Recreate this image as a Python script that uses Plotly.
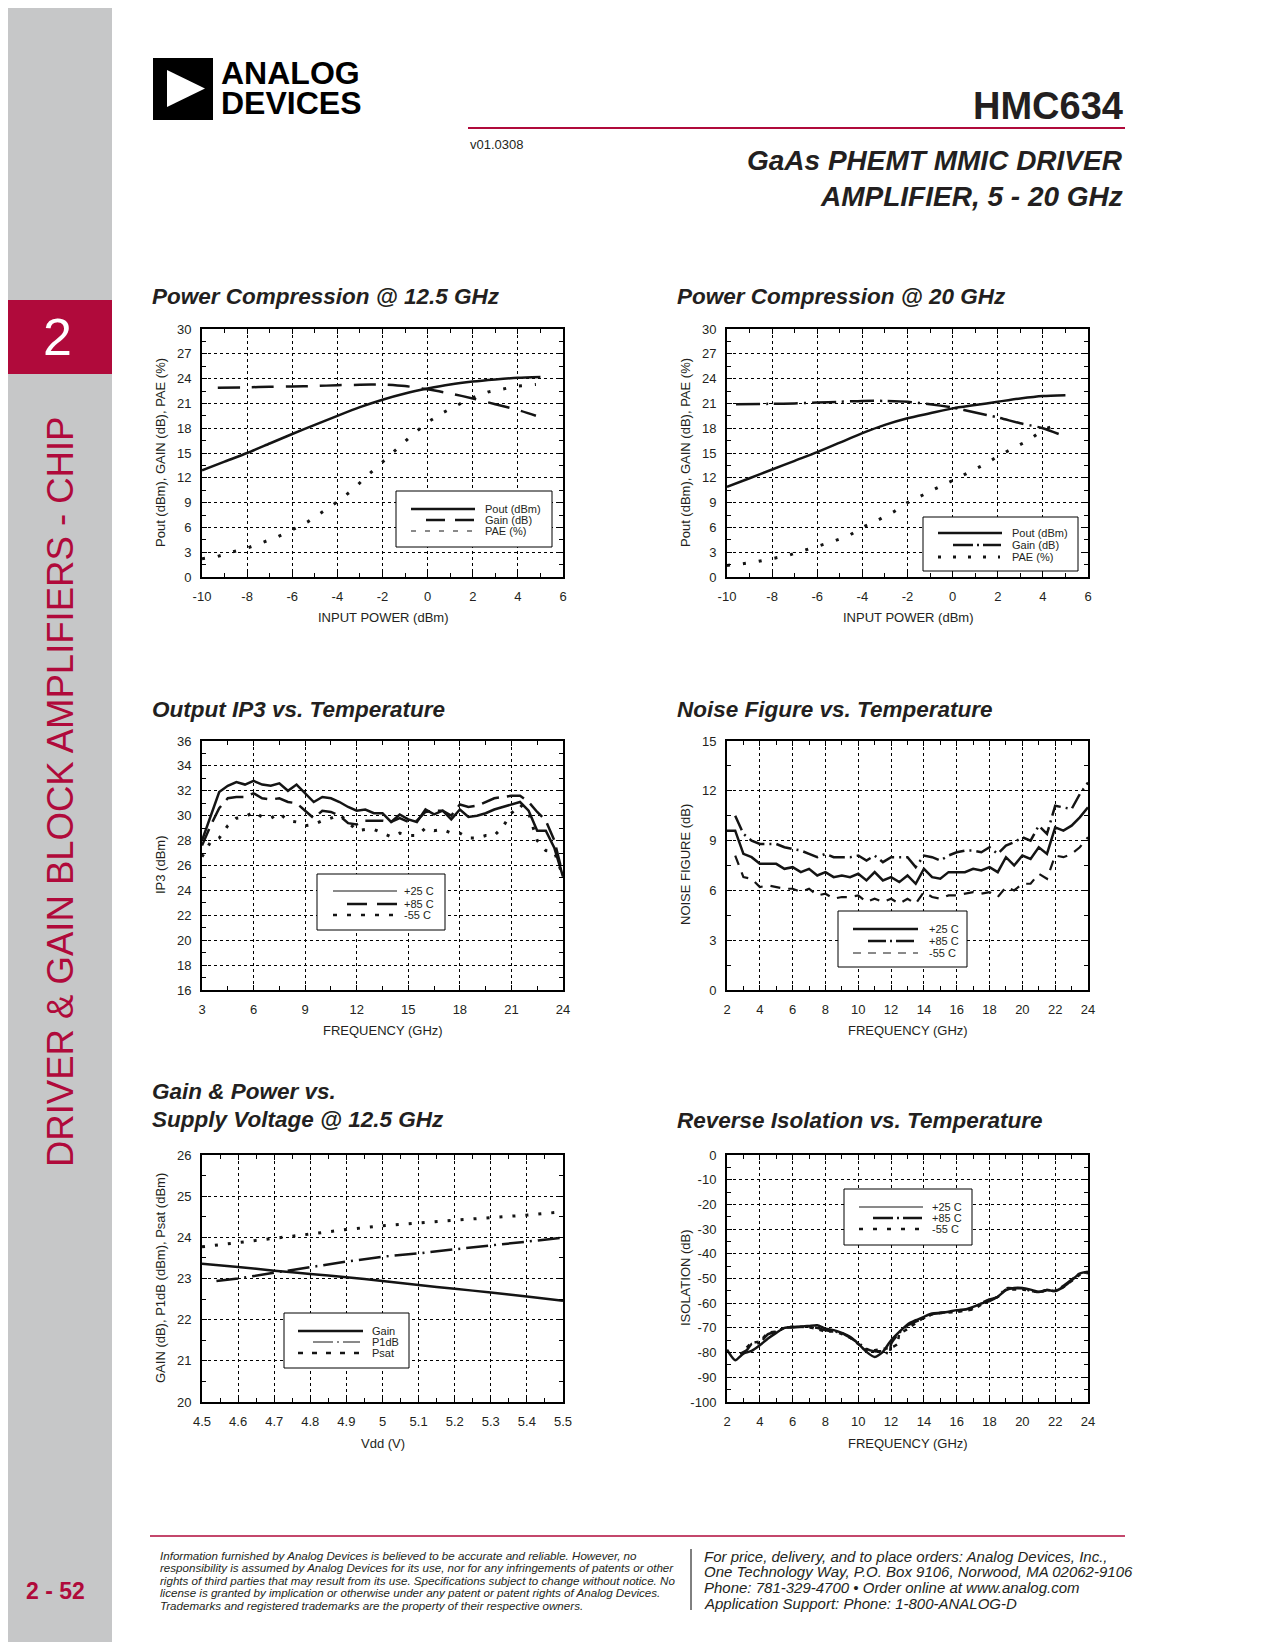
import plotly.graph_objects as go

# ---------------- data ----------------
# Power Compression @ 12.5 GHz
A_PIN = [-10, -9, -8, -7, -6, -5, -4, -3, -2, -1, 0, 1, 2, 3, 4, 5]
A_POUT = [12.9, 13.95, 15.0, 16.15, 17.3, 18.4, 19.5, 20.55, 21.45, 22.2, 22.8, 23.3, 23.65, 23.9, 24.1, 24.2]
A_GAIN_X = [-9.3, -8, -7, -6, -5, -4, -3, -2, -1, 0, 1, 2, 3, 4, 4.8]
A_GAIN = [22.9, 22.95, 23.0, 23.05, 23.1, 23.2, 23.25, 23.3, 23.1, 22.7, 22.2, 21.6, 20.9, 20.2, 19.5]
A_PAE_X = [-10, -9.3, -8.7, -8, -7.3, -6.7, -6, -5.3, -4.7, -4, -3.3, -2.7, -2, -1.3, -0.6, 0.1, 0.7, 1.4, 2, 2.7, 3.4, 4, 4.8]
A_PAE = [2.2, 2.5, 3.0, 3.5, 4.2, 4.8, 5.7, 6.7, 7.8, 9.1, 10.6, 12.2, 13.9, 15.7, 17.4, 18.9, 19.9, 20.9, 21.7, 22.4, 22.8, 23.1, 23.3]
A_XT = [-10, -8, -6, -4, -2, 0, 2, 4, 6]
A_YT = [0, 3, 6, 9, 12, 15, 18, 21, 24, 27, 30]

# Power Compression @ 20 GHz
B_PIN = [-10, -9, -8, -7, -6, -5, -4, -3, -2, -1, 0, 1, 2, 3, 4, 5]
B_POUT = [10.9, 11.95, 13.0, 14.05, 15.1, 16.25, 17.4, 18.4, 19.2, 19.8, 20.4, 20.8, 21.2, 21.6, 21.9, 22.0]
B_GAIN_X = [-9.6, -8, -7, -6, -5, -4, -3, -2, -1, 0, 1, 2, 3, 4, 4.7]
B_GAIN = [20.9, 20.95, 21.0, 21.1, 21.2, 21.3, 21.3, 21.2, 20.9, 20.5, 19.9, 19.3, 18.6, 18.0, 17.3]
B_PAE_X = [-10, -9.3, -8.6, -8, -7.3, -6.6, -6, -5.3, -4.6, -4, -3.3, -2.6, -2, -1.3, -0.6, 0.1, 0.7, 1.4, 2, 2.7, 3.4, 4, 4.7]
B_PAE = [1.4, 1.6, 1.9, 2.2, 2.6, 3.2, 3.7, 4.3, 5.0, 6.0, 6.9, 7.9, 9.0, 10.0, 10.9, 11.8, 12.6, 13.6, 14.6, 15.6, 16.6, 17.8, 18.5]
B_XT = [-10, -8, -6, -4, -2, 0, 2, 4, 6]
B_YT = [0, 3, 6, 9, 12, 15, 18, 21, 24, 27, 30]

# Output IP3 vs. Temperature
C_FREQ = [3, 3.5, 4, 4.5, 5, 5.5, 6, 6.5, 7, 7.5, 8, 8.5, 9, 9.5, 10, 10.5, 11, 11.5, 12, 12.5,
          13, 13.5, 14, 14.5, 15, 15.5, 16, 16.5, 17, 17.5, 18, 18.5, 19, 19.5, 20, 20.5, 21, 21.5,
          22, 22.5, 23, 23.5, 24]
C_P25 = [28.0, 30.0, 31.9, 32.4, 32.7, 32.5, 32.8, 32.5, 32.4, 32.6, 32.0, 32.5, 31.8, 31.1, 31.5,
         31.4, 31.1, 30.7, 30.4, 30.5, 30.2, 30.2, 29.5, 30.1, 29.7, 29.5, 30.5, 30.1, 30.4, 29.7,
         30.5, 29.9, 30.0, 30.2, 30.5, 30.7, 30.9, 31.1, 30.4, 28.8, 28.8, 27.4, 25.1]
C_P85 = [27.6, 29.2, 30.6, 31.4, 31.5, 31.5, 31.8, 31.4, 31.3, 31.4, 31.1, 31.0, 30.4, 29.8, 30.4,
         30.3, 30.0, 29.4, 29.3, 29.6, 29.6, 29.6, 29.5, 29.8, 29.5, 29.6, 30.3, 30.4, 30.4, 30.0,
         30.9, 30.7, 30.8, 31.1, 31.4, 31.5, 31.6, 31.6, 31.1, 30.3, 29.6, 28.0, 25.2]
C_M55 = [26.7, 27.9, 28.2, 29.2, 29.8, 29.9, 30.3, 29.9, 29.8, 30.2, 29.6, 29.5, 29.2, 29.3, 29.6,
         29.8, 30.1, 29.5, 28.8, 28.9, 28.9, 28.6, 28.3, 28.6, 28.4, 28.4, 29.0, 28.8, 28.9, 28.6,
         28.6, 28.2, 28.2, 28.4, 28.4, 29.1, 30.2, 30.9, 30.2, 28.0, 27.2, 27.1, 25.1]
C_XT = [3, 6, 9, 12, 15, 18, 21, 24]
C_YT = [16, 18, 20, 22, 24, 26, 28, 30, 32, 34, 36]

# Noise Figure vs. Temperature
D_FREQ = [2, 2.5, 3, 3.5, 4, 4.5, 5, 5.5, 6, 6.5, 7, 7.5, 8, 8.5, 9, 9.5, 10, 10.5, 11, 11.5,
          12, 12.5, 13, 13.5, 14, 14.5, 15, 15.5, 16, 16.5, 17, 17.5, 18, 18.5, 19, 19.5, 20, 20.5,
          21, 21.5, 22, 22.5, 23, 23.5, 24]
D_P25 = [9.6, 9.6, 8.2, 8.0, 7.6, 7.6, 7.6, 7.3, 7.4, 7.1, 7.3, 6.9, 7.1, 6.8, 6.9, 6.8, 7.0, 6.6,
         7.1, 6.6, 6.8, 6.5, 6.9, 6.4, 7.3, 6.8, 6.7, 7.1, 7.1, 7.1, 7.3, 7.2, 7.4, 7.1, 8.0, 7.5,
         8.1, 7.9, 8.6, 8.2, 9.8, 9.6, 9.9, 10.4, 11.0]
D_FREQ_T = D_FREQ[1:]
D_P85 = [10.5, 9.4, 9.0, 8.8, 8.8, 8.8, 8.6, 8.5, 8.4, 8.2, 8.0, 8.2, 8.0, 8.0, 8.0, 8.1, 7.8,
         8.1, 7.7, 8.0, 8.0, 8.0, 7.4, 8.1, 8.0, 7.8, 8.1, 8.3, 8.4, 8.4, 8.3, 8.6, 8.2, 8.7, 8.9,
         9.2, 9.0, 9.9, 9.4, 11.1, 11.0, 10.9, 11.8, 12.5]
D_M55 = [8.1, 6.8, 6.7, 6.2, 6.3, 6.2, 6.1, 6.1, 5.9, 6.1, 5.7, 5.8, 5.5, 5.6, 5.6, 5.7, 5.3,
         5.5, 5.3, 5.5, 5.2, 5.5, 5.2, 5.9, 5.6, 5.5, 5.7, 5.7, 5.8, 5.9, 5.8, 5.9, 5.6, 6.2, 6.0,
         6.4, 6.4, 7.0, 6.7, 8.1, 8.0, 8.2, 8.6, 9.2]
D_XT = [2, 4, 6, 8, 10, 12, 14, 16, 18, 20, 22, 24]
D_YT = [0, 3, 6, 9, 12, 15]

# Gain & Power vs. Supply Voltage @ 12.5 GHz
E_VDD = [4.5, 4.6, 4.7, 4.8, 4.9, 5.0, 5.1, 5.2, 5.3, 5.4, 5.5]
E_GAIN = [23.36, 23.28, 23.19, 23.11, 23.03, 22.94, 22.84, 22.75, 22.66, 22.56, 22.46]
E_P1DB_X = [4.54, 4.6, 4.7, 4.8, 4.9, 5.0, 5.1, 5.2, 5.3, 5.4, 5.5]
E_P1DB = [22.94, 23.0, 23.14, 23.28, 23.41, 23.53, 23.61, 23.71, 23.8, 23.89, 23.99]
E_PSAT = [23.77, 23.87, 23.97, 24.08, 24.19, 24.28, 24.35, 24.42, 24.48, 24.54, 24.62]
E_XT = [4.5, 4.6, 4.7, 4.8, 4.9, 5.0, 5.1, 5.2, 5.3, 5.4, 5.5]
E_YT = [20, 21, 22, 23, 24, 25, 26]

# Reverse Isolation vs. Temperature
F_FREQ = D_FREQ
F_P25 = [-78.8, -83.1, -80.4, -79.3, -77.0, -74.3, -72.0, -70.0, -69.6, -69.5, -69.2, -68.9, -70.3,
         -70.9, -72.0, -73.6, -76.4, -79.7, -81.8, -79.7, -75.0, -71.6, -68.6, -66.9, -65.5, -64.2,
         -63.9, -63.5, -62.8, -62.6, -61.5, -60.1, -59.1, -57.4, -54.7, -53.8, -53.8, -54.5, -55.4,
         -54.7, -55.1, -53.4, -50.7, -48.0, -47.3]
F_P85_X = [2.8, 3.2, 3.5, 4, 4.5, 5, 5.5, 6, 7, 7.5, 8, 8.5, 9, 9.5, 10, 10.5, 11, 11.5, 11.9, 12.0,
           12.5, 13, 13.5, 14, 14.5, 15, 16, 16.5, 17, 17.5, 18, 18.5, 19, 19.5, 20, 20.5, 21, 21.5,
           22, 22.5, 23, 23.5, 24]
F_P85 = [-80.5, -79.0, -76.5, -76.0, -72.5, -71.5, -70.0, -69.8, -69.5, -70.0, -71.0, -71.5, -72.0,
         -74.0, -76.0, -78.5, -79.5, -79.5, -80.5, -76.5, -72.0, -69.0, -67.5, -66.0, -64.5, -64.0,
         -63.0, -62.5, -62.0, -60.0, -58.5, -57.5, -54.0, -54.0, -54.0, -55.0, -55.5, -54.7, -54.8,
         -53.0, -50.5, -48.0, -47.5]
F_M55_X = [3.2, 3.5, 4, 4.5, 5, 5.5, 6, 7, 7.5, 8, 8.5, 9, 9.5, 10, 10.5, 11, 11.5, 12, 12.4, 12.5,
           13, 13.5, 14, 14.5, 15, 16, 16.5, 17, 17.5, 18, 18.5, 19, 19.5, 20, 20.5, 21, 21.5, 22,
           22.5, 23, 23.5, 24]
F_M55 = [-78.0, -76.0, -75.5, -72.0, -71.5, -70.0, -69.5, -69.8, -70.5, -71.5, -71.5, -72.5, -74.0,
         -76.5, -79.0, -79.0, -78.5, -78.0, -76.5, -72.5, -70.5, -68.0, -66.0, -64.5, -64.0, -63.5,
         -63.0, -62.5, -60.5, -58.5, -57.5, -54.5, -54.5, -54.5, -55.0, -55.5, -54.8, -55.0, -53.5,
         -51.0, -48.5, -47.8]
F_XT = [2, 4, 6, 8, 10, 12, 14, 16, 18, 20, 22, 24]
F_YT = [-100, -90, -80, -70, -60, -50, -40, -30, -20, -10, 0]

# ---------------- page geometry helpers ----------------
# The page body keeps its default 8px margin, so the figure is sized to fill the
# 1275x1650 window from (8, 8); all positions below are window pixels.
OFF = 8
W, H = 1275 - 2 * OFF, 1650 - 2 * OFF
def X(p):
    return min(max((p - OFF) / W, 0.0), 1.0)
def Y(p):
    return min(max(1 - (p - OFF) / H, 0.0), 1.0)

FONT = "Liberation Sans, Arial, Helvetica, sans-serif"
INK = "#231f20"
LINE = "#141414"
RED = "#b00a3b"
GRAY = "#c6c7c8"

fig = go.Figure()
layout = dict(width=W, height=H, autosize=False,
              margin=dict(l=0, r=0, t=0, b=0, pad=0, autoexpand=False),
              paper_bgcolor="white", plot_bgcolor="white", showlegend=False,
              font=dict(family=FONT, color=INK))

panels = [
    (202, 563, 329, 577, A_XT, A_YT, 1, 1.5),
    (727, 1088, 329, 577, B_XT, B_YT, 1, 1.5),
    (202, 563, 741, 990, C_XT, C_YT, 1.5, 1),
    (727, 1088, 741, 990, D_XT, D_YT, 1, 1.5),
    (202, 563, 1155, 1402, E_XT, E_YT, 0.05, 0.5),
    (727, 1088, 1155, 1402, F_XT, F_YT, 1, 5),
]

def lab(v):
    return "%g" % v

for i, (x0, x1, yt, yb, xt, ytk, xm, ym) in enumerate(panels, start=1):
    sfx = "" if i == 1 else str(i)
    common = dict(showgrid=True, gridcolor="#000000", gridwidth=1, griddash="3px,3px",
                  showline=True, linecolor="#000000", linewidth=2, mirror="allticks",
                  ticks="inside", ticklen=5, tickwidth=1, tickcolor="#000000",
                  zeroline=False, tickmode="array", fixedrange=True, automargin=False,
                  tickfont=dict(family=FONT, size=13, color=INK))
    layout["xaxis" + sfx] = dict(common, domain=[X(x0), X(x1)], range=[xt[0], xt[-1]],
                                 tickvals=xt, ticktext=[lab(v) for v in xt],
                                 anchor="y" + sfx, ticklabelstandoff=6,
                                 minor=dict(tickmode="linear", tick0=xt[0], dtick=xm, ticks="inside",
                                            ticklen=4, tickwidth=1, tickcolor="#000000", showgrid=False))
    layout["yaxis" + sfx] = dict(common, domain=[Y(yb), Y(yt)], range=[ytk[0], ytk[-1]],
                                 tickvals=ytk, ticktext=[lab(v) for v in ytk],
                                 anchor="x" + sfx, ticklabelstandoff=6,
                                 minor=dict(tickmode="linear", tick0=ytk[0], dtick=ym, ticks="inside",
                                            ticklen=4, tickwidth=1, tickcolor="#000000", showgrid=False))

def line(i, x, y, dash="solid", width=2.5, shape="linear"):
    sfx = "" if i == 1 else str(i)
    fig.add_trace(go.Scatter(x=x, y=y, mode="lines", xaxis="x" + sfx, yaxis="y" + sfx,
                             line=dict(color=LINE, width=width, dash=dash, shape=shape,
                                       smoothing=0.6 if shape == "spline" else None),
                             hoverinfo="skip"))

DOTS = "3px,13px"
# A
line(1, A_PIN, A_POUT, "solid", 2.5, "spline")
line(1, A_GAIN_X, A_GAIN, "22px,12px", 2.5, "spline")
line(1, A_PAE_X, A_PAE, DOTS, 3)
# B
line(2, B_PIN, B_POUT, "solid", 2.5, "spline")
line(2, B_GAIN_X, B_GAIN, "24px,6px,2px,6px", 2.5, "spline")
line(2, B_PAE_X, B_PAE, DOTS, 3)
# C
line(3, C_FREQ, C_P25, "solid", 2.5)
line(3, C_FREQ, C_P85, "18px,8px", 2.5)
line(3, C_FREQ, C_M55, "3px,10px", 3)
# D
line(4, D_FREQ, D_P25, "solid", 2.5)
line(4, D_FREQ_T, D_P85, "16px,5px,2px,5px", 2.5)
line(4, D_FREQ_T, D_M55, "10px,8px", 2.2)
# E
line(5, E_VDD, E_GAIN, "solid", 2.5, "spline")
line(5, E_P1DB_X, E_P1DB, "22px,6px,2px,6px", 2.5)
line(5, E_VDD, E_PSAT, "3px,10px", 3)
# F
line(6, F_FREQ, F_P25, "solid", 2.5, "spline")
line(6, F_P85_X, F_P85, "16px,5px,2px,5px", 2.5, "spline")
line(6, F_M55_X, F_M55, "4px,6px", 2.5, "spline")

shapes = []
annots = []

def rect(x0, y0, x1, y1, fill, lw=0, lc="#000000", layer="above"):
    shapes.append(dict(type="rect", xref="paper", yref="paper", x0=X(x0), x1=X(x1), y0=Y(y1), y1=Y(y0),
                       fillcolor=fill, line=dict(width=lw, color=lc), layer=layer))

def hline(x0, x1, y, color="#000000", width=1, dash="solid"):
    shapes.append(dict(type="line", xref="paper", yref="paper", x0=X(x0), x1=X(x1), y0=Y(y), y1=Y(y),
                       line=dict(color=color, width=width, dash=dash), layer="above"))

def vline(x, y0, y1, color="#000000", width=1):
    shapes.append(dict(type="line", xref="paper", yref="paper", x0=X(x), x1=X(x), y0=Y(y0), y1=Y(y1),
                       line=dict(color=color, width=width), layer="above"))

def text(x, y, s, size=13, color=INK, xanchor="left", yanchor="middle", angle=0, family=FONT):
    annots.append(dict(xref="paper", yref="paper", x=X(x), y=Y(y), text=s, showarrow=False,
                       xanchor=xanchor, yanchor=yanchor, textangle=angle,
                       font=dict(family=family, size=size, color=color)))

# ---- sidebar ----
rect(8, 8, 112, 1642, GRAY, layer="below")
rect(8, 300, 112, 374, RED, layer="below")
text(57, 337, "2", 52, "white", "center")
text(60, 792, "DRIVER &amp; GAIN BLOCK AMPLIFIERS - CHIP", 36.5, RED, "center", angle=-90)
text(55, 1591, "<b>2 - 52</b>", 23, RED, "center")

# ---- header ----
rect(153, 58, 213, 120, "#000000")
shapes.append(dict(type="path", xref="paper", yref="paper",
                   path="M %f %f L %f %f L %f %f Z" % (X(167), Y(70), X(167), Y(107), X(205), Y(88.5)),
                   fillcolor="white", line=dict(width=0), layer="above"))
text(219, 72.5, "<b>ANALOG</b>", 32, "#000000")
text(219, 102.5, "<b>DEVICES</b>", 32, "#000000")
text(1125, 106, "<b>HMC634</b>", 38, INK, "right")
hline(468, 1125, 128, RED, 2)
text(468, 144, "v01.0308", 13, INK)
text(1125, 161, "<b><i>GaAs PHEMT MMIC DRIVER</i></b>", 28, INK, "right")
text(1125, 196, "<b><i>AMPLIFIER, 5 - 20 GHz</i></b>", 28, INK, "right")

# ---- chart titles ----
TS = 22.5
text(150, 296, "<b><i>Power Compression @ 12.5 GHz</i></b>", TS)
text(675, 296, "<b><i>Power Compression @ 20 GHz</i></b>", TS)
text(150, 709, "<b><i>Output IP3 vs. Temperature</i></b>", TS)
text(675, 709, "<b><i>Noise Figure vs. Temperature</i></b>", TS)
text(150, 1091, "<b><i>Gain &amp; Power vs.</i></b>", TS)
text(150, 1119, "<b><i>Supply Voltage @ 12.5 GHz</i></b>", TS)
text(675, 1120, "<b><i>Reverse Isolation vs. Temperature</i></b>", TS)

# ---- axis titles ----
text(383, 617, "INPUT POWER (dBm)", 13, xanchor="center")
text(160, 453, "Pout (dBm), GAIN (dB), PAE (%)", 13, xanchor="center", angle=-90)
text(908, 617, "INPUT POWER (dBm)", 13, xanchor="center")
text(685, 453, "Pout (dBm), GAIN (dB), PAE (%)", 13, xanchor="center", angle=-90)
text(383, 1030, "FREQUENCY (GHz)", 13, xanchor="center")
text(160, 865, "IP3 (dBm)", 13, xanchor="center", angle=-90)
text(908, 1030, "FREQUENCY (GHz)", 13, xanchor="center")
text(685, 865, "NOISE FIGURE (dB)", 13, xanchor="center", angle=-90)
text(383, 1443, "Vdd (V)", 13, xanchor="center")
text(160, 1278, "GAIN (dB), P1dB (dBm), Psat (dBm)", 13, xanchor="center", angle=-90)
text(908, 1443, "FREQUENCY (GHz)", 13, xanchor="center")
text(685, 1278, "ISOLATION (dB)", 13, xanchor="center", angle=-90)

# ---- legends ----
def legend(box, tx, rows):
    rect(box[0], box[1], box[2], box[3], "white", 1, "#000000")
    for (y, sx0, sx1, dash, w, label) in rows:
        hline(sx0, sx1, y, LINE, w, dash)
        text(tx, y, label, 11)

legend((396, 491, 552, 547), 483, [
    (509, 411, 475, "solid", 2.5, "Pout (dBm)"),
    (520, 426, 475, "19px,10px", 2.5, "Gain (dB)"),
    (531, 411, 474, "5px,9px", 1, "PAE (%)"),
])
legend((923, 517, 1078, 571), 1010, [
    (533, 938, 1002, "solid", 2.5, "Pout (dBm)"),
    (545, 953, 1001, "20px,4px,2px,4px", 2.5, "Gain (dB)"),
    (557, 938, 1000, "3px,12px", 3, "PAE (%)"),
])
legend((317, 874, 445, 930), 402, [
    (891, 333, 397, "solid", 1, "+25 C"),
    (904, 347, 397, "20px,10px", 2.5, "+85 C"),
    (915, 333, 396, "4px,10px", 2.5, "-55 C"),
])
legend((838, 911, 967, 967), 927, [
    (929, 853, 918, "solid", 2.5, "+25 C"),
    (941, 868, 918, "18px,4px,2px,4px", 2.5, "+85 C"),
    (953, 853, 918, "8px,7px", 1, "-55 C"),
])
legend((284, 1313, 409, 1368), 370, [
    (1331, 298, 363, "solid", 2.5, "Gain"),
    (1342, 313, 360, "20px,4px,2px,4px", 1, "P1dB"),
    (1353, 298, 363, "5px,9px", 2.5, "Psat"),
])
legend((844, 1189, 972, 1245), 930, [
    (1207, 859, 923, "solid", 1, "+25 C"),
    (1218, 873, 922, "20px,4px,2px,4px", 2.5, "+85 C"),
    (1229, 859, 923, "4px,10px", 2.5, "-55 C"),
])

# ---- footer ----
hline(150, 1125, 1536, RED, 1.5)
vline(691, 1549, 1610, "#000000", 1)
foot_left = [
    "Information furnished by Analog Devices is believed to be accurate and reliable. However, no",
    "responsibility is assumed by Analog Devices for its use, nor for any infringements of patents or other",
    "rights of third parties that may result from its use. Specifications subject to change without notice. No",
    "license is granted by implication or otherwise under any patent or patent rights of Analog Devices.",
    "Trademarks and registered trademarks are the property of their respective owners.",
]
for k, s in enumerate(foot_left):
    text(158, 1555 + k * 12.6, "<i>" + s + "</i>", 11.6)
foot_right = [
    "For price, delivery, and to place orders: Analog Devices, Inc.,",
    "One Technology Way, P.O. Box 9106, Norwood, MA 02062-9106",
    "Phone: 781-329-4700 \u2022 Order online at www.analog.com",
    "Application Support: Phone: 1-800-ANALOG-D",
]
for k, s in enumerate(foot_right):
    text(702, 1556 + k * 15.7, "<i>" + s + "</i>", 15)

layout["shapes"] = shapes
layout["annotations"] = annots
fig.update_layout(**layout)

fig.write_html("out.html", config={"displayModeBar": False, "staticPlot": True})
